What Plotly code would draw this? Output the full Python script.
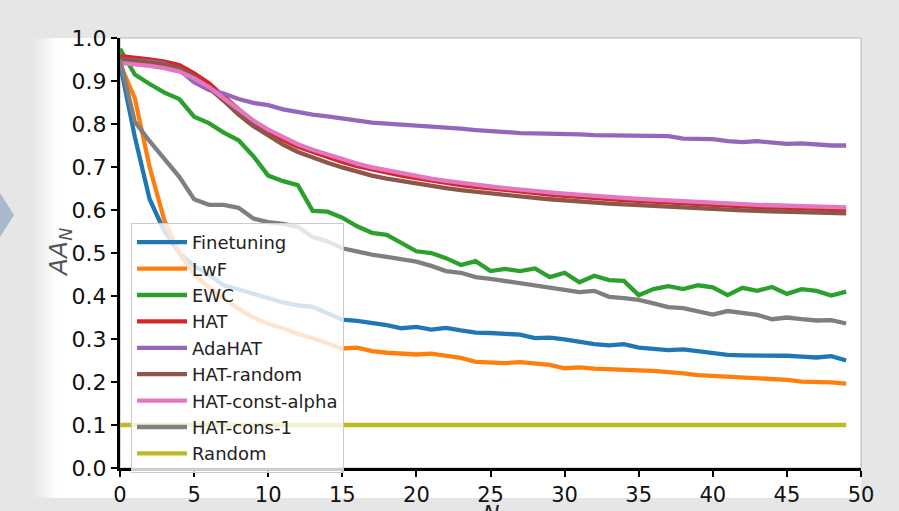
import plotly.graph_objects as go

N = list(range(50))

finetuning = [0.94, 0.77, 0.625, 0.55, 0.50, 0.47, 0.45, 0.425, 0.415, 0.405,
              0.395, 0.385, 0.378, 0.375, 0.36, 0.345, 0.342, 0.338, 0.332, 0.325,
              0.328, 0.322, 0.326, 0.32, 0.315, 0.314, 0.312, 0.31, 0.302, 0.303,
              0.299, 0.293, 0.288, 0.285, 0.288, 0.28, 0.277, 0.274, 0.276, 0.271,
              0.266, 0.263, 0.262, 0.262, 0.261, 0.261, 0.259, 0.257, 0.26, 0.25]
lwf = [0.94, 0.86, 0.70, 0.575, 0.50, 0.45, 0.42, 0.395, 0.37, 0.35,
       0.335, 0.325, 0.312, 0.302, 0.29, 0.278, 0.28, 0.272, 0.268, 0.266,
       0.264, 0.266, 0.262, 0.256, 0.247, 0.245, 0.244, 0.246, 0.244, 0.24,
       0.232, 0.234, 0.231, 0.229, 0.228, 0.227, 0.226, 0.224, 0.22, 0.216,
       0.214, 0.213, 0.212, 0.21, 0.207, 0.205, 0.201, 0.201, 0.199, 0.196]
ewc = [0.975, 0.915, 0.893, 0.873, 0.858, 0.817, 0.802, 0.78, 0.762, 0.725,
       0.68, 0.667, 0.658, 0.598, 0.596, 0.582, 0.562, 0.547, 0.542, 0.522,
       0.504, 0.5, 0.488, 0.472, 0.481, 0.458, 0.463, 0.458, 0.464, 0.444,
       0.454, 0.432, 0.447, 0.437, 0.435, 0.402, 0.416, 0.423, 0.416, 0.425,
       0.42, 0.402, 0.419, 0.412, 0.421, 0.405, 0.416, 0.412, 0.401, 0.41]
hat = [0.958, 0.955, 0.95, 0.945, 0.937, 0.918, 0.895, 0.864, 0.833, 0.805,
       0.782, 0.763, 0.747, 0.735, 0.724, 0.712, 0.702, 0.694, 0.687, 0.68,
       0.674, 0.668, 0.663, 0.658, 0.654, 0.65, 0.646, 0.642, 0.639, 0.636,
       0.633, 0.63, 0.628, 0.625, 0.623, 0.621, 0.619, 0.617, 0.615, 0.613,
       0.612, 0.61, 0.609, 0.607, 0.606, 0.605, 0.604, 0.603, 0.602, 0.601]
adahat = [0.95, 0.948, 0.945, 0.94, 0.926, 0.897, 0.879, 0.871, 0.858, 0.849,
          0.844, 0.834, 0.827, 0.822, 0.818, 0.813, 0.806, 0.803, 0.801, 0.799,
          0.796, 0.794, 0.791, 0.789, 0.786, 0.783, 0.78, 0.779, 0.778, 0.778,
          0.777, 0.776, 0.774, 0.774, 0.774, 0.773, 0.773, 0.772, 0.766, 0.765,
          0.765, 0.76, 0.758, 0.76, 0.756, 0.754, 0.755, 0.752, 0.75, 0.75]
hat_random = [0.95, 0.947, 0.943, 0.938, 0.93, 0.91, 0.884, 0.854, 0.822, 0.795,
              0.772, 0.752, 0.735, 0.722, 0.71, 0.699, 0.689, 0.68, 0.673, 0.667,
              0.661, 0.656, 0.651, 0.646, 0.642, 0.638, 0.634, 0.631, 0.628, 0.625,
              0.622, 0.62, 0.617, 0.615, 0.613, 0.611, 0.609, 0.607, 0.605, 0.603,
              0.602, 0.6, 0.599, 0.598, 0.597, 0.596, 0.595, 0.594, 0.593, 0.592]
hat_const_alpha = [0.942, 0.939, 0.935, 0.93, 0.922, 0.906, 0.886, 0.86, 0.833, 0.808,
                   0.787, 0.769, 0.753, 0.74, 0.729, 0.718, 0.708, 0.699, 0.692, 0.685,
                   0.679, 0.673, 0.668, 0.663, 0.659, 0.655, 0.651, 0.647, 0.644, 0.641,
                   0.638, 0.635, 0.632, 0.63, 0.628, 0.626, 0.624, 0.622, 0.62, 0.618,
                   0.617, 0.615, 0.614, 0.612, 0.611, 0.61, 0.609, 0.608, 0.607, 0.606]
hat_cons_1 = [0.95, 0.805, 0.76, 0.72, 0.677, 0.625, 0.612, 0.612, 0.605, 0.58,
              0.572, 0.568, 0.561, 0.537, 0.527, 0.511, 0.503, 0.496, 0.491, 0.486,
              0.48, 0.47, 0.458, 0.454, 0.444, 0.44, 0.435, 0.431, 0.426, 0.419,
              0.414, 0.409, 0.412, 0.398, 0.395, 0.391, 0.383, 0.374, 0.372, 0.365,
              0.357, 0.365, 0.36, 0.356, 0.346, 0.35, 0.346, 0.343, 0.344, 0.336]
random_baseline = [0.1, 0.1, 0.1, 0.1, 0.1, 0.1, 0.1, 0.1, 0.1, 0.1,
                   0.1, 0.1, 0.1, 0.1, 0.1, 0.1, 0.1, 0.1, 0.1, 0.1,
                   0.1, 0.1, 0.1, 0.1, 0.1, 0.1, 0.1, 0.1, 0.1, 0.1,
                   0.1, 0.1, 0.1, 0.1, 0.1, 0.1, 0.1, 0.1, 0.1, 0.1,
                   0.1, 0.1, 0.1, 0.1, 0.1, 0.1, 0.1, 0.1, 0.1, 0.1]

series_names = ["Finetuning", "LwF", "EWC", "HAT", "AdaHAT", "HAT-random",
                "HAT-const-alpha", "HAT-cons-1", "Random"]
series_values = [finetuning, lwf, ewc, hat, adahat, hat_random,
                 hat_const_alpha, hat_cons_1, random_baseline]
colors = ["#1f77b4", "#ff7f0e", "#2ca02c", "#d62728", "#9467bd", "#8c564b",
          "#e377c2", "#7f7f7f", "#bcbd22"]
x_ticks = [0, 5, 10, 15, 20, 25, 30, 35, 40, 45, 50]
y_ticks = [0.0, 0.1, 0.2, 0.3, 0.4, 0.5, 0.6, 0.7, 0.8, 0.9, 1.0]

# pixel geometry of the plot area
L, R, T, B = 120, 861, 38, 468
W, H = 899, 511
def px(p):
    return (p - L) / (R - L)
def py(p):
    return (B - p) / (B - T)

fig = go.Figure()
for name, vals, col in zip(series_names, series_values, colors):
    fig.add_trace(go.Scatter(x=N, y=vals, mode="lines", name=name,
                             line=dict(color=col, width=4.3)))

shapes = []
# white card with soft left edge
shapes.append(dict(type="rect", xref="paper", yref="paper", layer="below",
                   x0=px(58), x1=px(R), y0=py(498), y1=py(T),
                   fillcolor="white", line=dict(width=0)))
for i, a in enumerate([0.15, 0.3, 0.45, 0.6, 0.75, 0.9]):
    x0 = 34 + i * 4
    shapes.append(dict(type="rect", xref="paper", yref="paper", layer="below",
                       x0=px(x0), x1=px(x0 + 4), y0=py(498), y1=py(T),
                       fillcolor="rgba(255,255,255,%.2f)" % a, line=dict(width=0)))
# plot frame (thin grey top/right)
shapes.append(dict(type="rect", xref="paper", yref="paper", layer="below",
                   x0=0, x1=1, y0=0, y1=1,
                   line=dict(color="#b4b4b4", width=1)))
# left chevron
shapes.append(dict(type="path", xref="paper", yref="paper", layer="below",
                   path="M %f %f L %f %f L %f %f Z" % (px(0), py(193), px(14), py(215), px(0), py(237)),
                   fillcolor="#aab8cc", line=dict(width=0)))

fig.update_layout(
    width=W, height=H,
    margin=dict(l=L, r=W - R, t=T, b=H - B, autoexpand=False),
    paper_bgcolor="#e6e6e6",
    plot_bgcolor="rgba(0,0,0,0)",
    font=dict(family="DejaVu Sans", color="#111111"),
    showlegend=True,
    legend=dict(x=px(131), y=py(223), xanchor="left", yanchor="top",
                bgcolor="rgba(255,255,255,0.8)", bordercolor="#cccccc", borderwidth=1,
                font=dict(size=18, family="DejaVu Sans", color="#222222"),
                itemwidth=50, tracegroupgap=0),
    shapes=shapes,
    xaxis=dict(range=[0, 50], tickvals=x_ticks, ticks="outside", ticklen=6, tickwidth=2,
               tickcolor="black", showline=True, linecolor="black", linewidth=3,
               showgrid=False, zeroline=False, automargin=False,
               tickfont=dict(size=21, color="#111111")),
    yaxis=dict(range=[0, 1.0], tickvals=y_ticks, tickformat=".1f", ticks="outside",
               ticklen=6, tickwidth=2, tickcolor="black", showline=True, linecolor="black",
               linewidth=3, showgrid=False, zeroline=False, automargin=False,
               tickfont=dict(size=22, color="#111111")),
    annotations=[
        dict(text="<i>AA</i><sub><i>N</i></sub>", xref="paper", yref="paper",
             x=px(42), y=py(253), showarrow=False, textangle=-90,
             font=dict(size=25, color="#555555")),
        dict(text="<i>N</i>", xref="paper", yref="paper", x=px(491), y=py(499),
             yanchor="top", showarrow=False, font=dict(size=22, color="#222222")),
    ],
)

fig.write_html("out.html", config={"displayModeBar": False},
               post_script="document.body.style.margin='0';")
